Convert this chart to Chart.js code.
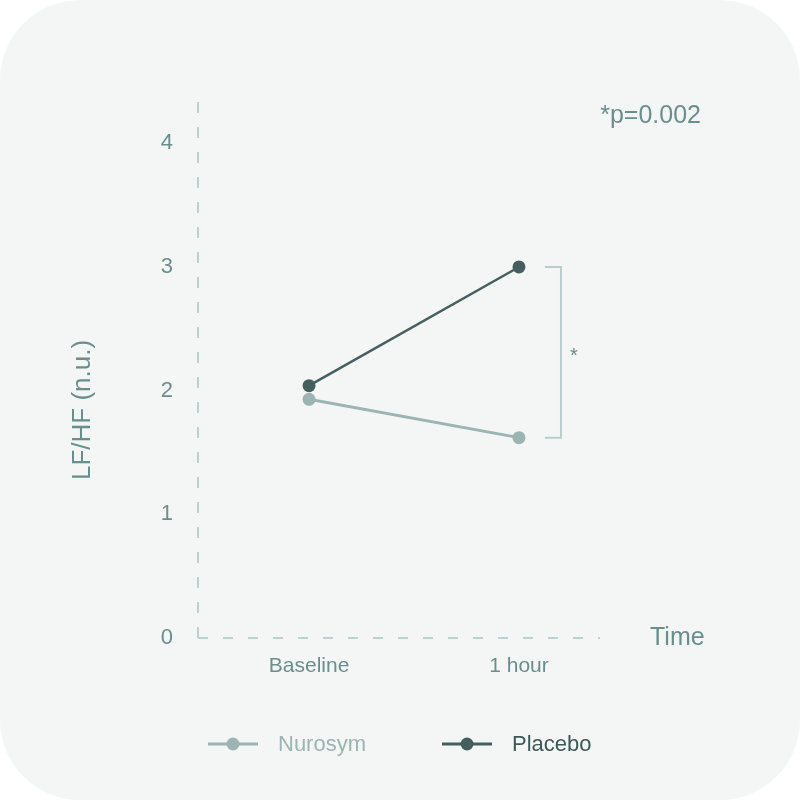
<!DOCTYPE html>
<html>
<head>
<meta charset="utf-8">
<script src="https://cdn.jsdelivr.net/npm/chart.js@4"></script>
<style>
  html, body { margin: 0; padding: 0; background: #ffffff; }
  #card { position: absolute; left: 0; top: 0; width: 800px; height: 800px; background: #f4f6f6; border-radius: 80px; overflow: hidden; }
  canvas { display: block; }
</style>
</head>
<body>
<div id="card"><canvas id="c" width="800" height="800"></canvas></div>
<script>
const categories = ["Baseline", "1 hour"];
const nurosym = [1.93, 1.62];
const placebo = [2.04, 3.0];
const seriesNames = ["Nurosym", "Placebo"];
const yTicks = [0, 1, 2, 3, 4];
const pValueText = "*p=0.002";
const xAxisTitle = "Time";
const yAxisTitle = "LF/HF (n.u.)";

const C_NURO = "#9cb4b2";
const C_PLAC = "#455f5f";
const C_TEXT = "#6a8e8c";
const C_AXIS = "#bcd2d0";
const FONT = "Liberation Sans, Arial, sans-serif";

const axesPlugin = {
  id: "axesPlugin",
  beforeDatasetsDraw(chart) {
    const ctx = chart.ctx, a = chart.chartArea;
    ctx.save();
    ctx.strokeStyle = C_AXIS;
    ctx.lineWidth = 2;
    ctx.setLineDash([11, 14]);
    ctx.beginPath(); ctx.moveTo(a.left, a.bottom); ctx.lineTo(a.left, a.top); ctx.stroke();
    ctx.setLineDash([10, 15]);
    ctx.beginPath(); ctx.moveTo(a.left, a.bottom); ctx.lineTo(a.right, a.bottom); ctx.stroke();
    ctx.restore();
  }
};

const overlay = {
  id: "overlay",
  afterDraw(chart) {
    const ctx = chart.ctx;
    const xs = chart.scales.x, ys = chart.scales.y;
    ctx.save();
    // y axis title
    ctx.save();
    ctx.translate(83, (chart.chartArea.top + chart.chartArea.bottom) / 2 + 41);
    ctx.rotate(-Math.PI / 2);
    ctx.fillStyle = C_TEXT;
    ctx.font = "26px " + FONT;
    ctx.textAlign = "center"; ctx.textBaseline = "middle";
    ctx.fillText(yAxisTitle, 0, 0);
    ctx.restore();
    // significance bracket
    const bx = xs.getPixelForValue(1) + 42;
    const yTop = ys.getPixelForValue(placebo[1]);
    const yBot = ys.getPixelForValue(nurosym[1]);
    ctx.strokeStyle = "#b9cdcc";
    ctx.lineWidth = 2;
    ctx.beginPath();
    ctx.moveTo(bx - 16, yTop); ctx.lineTo(bx, yTop); ctx.lineTo(bx, yBot); ctx.lineTo(bx - 16, yBot);
    ctx.stroke();
    ctx.fillStyle = C_TEXT;
    ctx.font = "20px " + FONT;
    ctx.textAlign = "left"; ctx.textBaseline = "middle";
    ctx.fillText("*", bx + 9, (yTop + yBot) / 2 + 4);
    // p value
    ctx.font = "25px " + FONT;
    ctx.textAlign = "right";
    ctx.fillText(pValueText, 701, 116);
    // x axis title
    ctx.font = "25px " + FONT;
    ctx.textAlign = "left";
    ctx.fillText(xAxisTitle, 650, ys.getPixelForValue(0));
    // legend
    const ly = 744;
    const items = [
      { name: seriesNames[0], color: C_NURO, textColor: C_NURO, x0: 208 },
      { name: seriesNames[1], color: C_PLAC, textColor: "#3f5757", x0: 442 }
    ];
    ctx.font = "22px " + FONT;
    items.forEach(it => {
      ctx.strokeStyle = it.color; ctx.lineWidth = 3;
      ctx.beginPath(); ctx.moveTo(it.x0, ly); ctx.lineTo(it.x0 + 50, ly); ctx.stroke();
      ctx.fillStyle = it.color;
      ctx.beginPath(); ctx.arc(it.x0 + 25, ly, 6.5, 0, Math.PI * 2); ctx.fill();
      ctx.fillStyle = it.textColor;
      ctx.textAlign = "left";
      ctx.fillText(it.name, it.x0 + 70, ly + 1);
    });
    ctx.restore();
  }
};

new Chart(document.getElementById("c"), {
  type: "line",
  data: {
    datasets: [
      { label: seriesNames[0], data: nurosym.map((v, i) => ({ x: i, y: v })), borderColor: C_NURO, backgroundColor: C_NURO, pointBackgroundColor: C_NURO, pointBorderWidth: 0, borderWidth: 3, pointRadius: 6.5, order: 2 },
      { label: seriesNames[1], data: placebo.map((v, i) => ({ x: i, y: v })), borderColor: C_PLAC, backgroundColor: C_PLAC, pointBackgroundColor: C_PLAC, pointBorderWidth: 0, borderWidth: 2.5, pointRadius: 6.5, order: 1 }
    ]
  },
  options: {
    responsive: false,
    animation: false,
    devicePixelRatio: 1,
    layout: { padding: { left: 70, right: 200, top: 100, bottom: 102 } },
    plugins: { legend: { display: false }, tooltip: { enabled: false } },
    scales: {
      x: {
        type: "linear",
        min: -0.529,
        max: 1.386,
        afterBuildTicks: s => { s.ticks = categories.map((c, i) => ({ value: i })); },
        afterFit: s => { s.height = 60; },
        grid: { display: false, drawTicks: false },
        border: { display: false },
        ticks: { padding: 16, color: C_TEXT, font: { size: 21, family: FONT }, callback: v => categories[v] }
      },
      y: {
        min: 0,
        max: 4.35,
        afterBuildTicks: s => { s.ticks = yTicks.map(v => ({ value: v })); },
        afterFit: s => { s.width = 128; },
        grid: { display: false, drawTicks: false },
        border: { display: false },
        ticks: { padding: 25, color: C_TEXT, font: { size: 22, family: FONT } }
      }
    }
  },
  plugins: [axesPlugin, overlay]
});
</script>
</body>
</html>
